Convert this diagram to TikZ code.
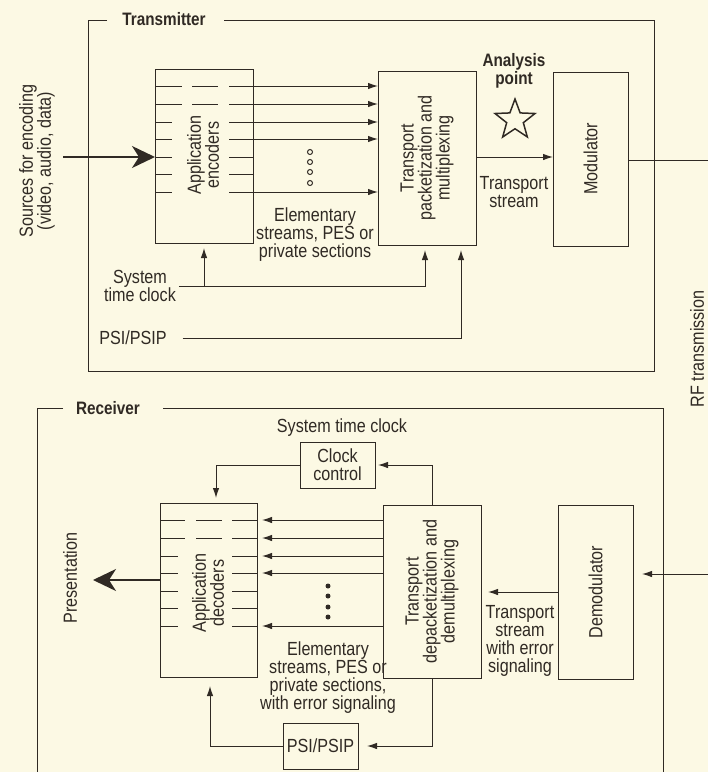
\documentclass[tikz,border=0pt]{standalone}
\usepackage{fontspec}
\setmainfont{Liberation Sans}[FakeStretch=0.85]
\usetikzlibrary{arrows.meta,shapes.geometric,calc}
\definecolor{bgc}{RGB}{252,249,228}
\definecolor{ink}{RGB}{48,42,36}
\begin{document}
\begin{tikzpicture}[x=1pt,y=-1pt,
  every node/.style={inner sep=0pt,outer sep=0pt,text=ink,font=\fontsize{19}{18}\selectfont},
  lab/.style={align=center},
  boldlab/.style={align=center,font=\fontsize{18}{18}\selectfont\bfseries},
  vlab/.style={align=center,rotate=90},
  blk/.style={draw=ink,line width=1pt,fill=bgc},
  ln/.style={draw=ink,line width=1pt},
  arr/.style={ln,-{Latex[length=10pt,width=6.5pt]}},
  bigarr/.style={draw=ink,line width=2pt,-{Stealth[length=23pt,width=22pt,inset=7pt]}},
  odot/.style={circle,draw=ink,line width=1pt,minimum size=5pt},
  fdot/.style={circle,fill=ink,minimum size=5pt}]
\fill[bgc] (0,0) rectangle (708,772);
\useasboundingbox (0,0) rectangle (708,772);

% ---------------- Transmitter ----------------
\node[boldlab] (tlbl) at (164,19) {Transmitter};
\draw[ln] (107,20) -- (88,20) -- (88,371) -- (654,371) -- (654,20) -- (224,20);

\node[blk,minimum width=98pt,minimum height=174pt] (enc) at (204,156) {};
\node[blk,minimum width=98pt,minimum height=174pt] (tx) at (427,158) {};
\node[blk,minimum width=75pt,minimum height=174pt] (mod) at (590.5,159) {};

% internal encoder lines
\foreach \y in {86,104}{
  \draw[ln] (155,\y) -- (182,\y) (192,\y) -- (218,\y) (229,\y) -- (253,\y);}
\foreach \y in {122,139,157,174,192}{
  \draw[ln] (155,\y) -- (172,\y) (229,\y) -- (253,\y);}
\node[vlab] (enclbl) at (203,155) {Application\\encoders};

\foreach \y in {86,104,122,139,192}{
  \draw[arr] (enc.east |- 0,\y) -- (tx.west |- 0,\y);}
\foreach[count=\i] \y in {152,162,172,183}{
  \node[odot] (od\i) at (310,\y) {};}
\node[lab] (eslbl) at (315,235) {Elementary\\streams, PES or\\private sections};

\node[vlab] (txlbl) at (tx.center) {Transport\\packetization and\\multiplexing};
\node[boldlab] (aplbl) at (514,71) {Analysis\\point};
\node[star,star points=5,star point ratio=2.4,draw=ink,line width=1.5pt,minimum size=42pt] (star) at (515,120) {};
\draw[arr] (tx.east |- 0,157) -- (mod.west |- 0,157);
\node[lab] (tslbl) at (514,192) {Transport\\stream};
\node[vlab] (modlbl) at (mod.center) {Modulator};
\coordinate (rfout) at (708,160);
\draw[ln] (mod.east |- rfout) -- (rfout);

\node[vlab] (srclbl) at (37,161) {Sources for encoding\\(video, audio, data)};
\coordinate (srcin) at (63,157);
\draw[bigarr] (srcin) -- (enc.west |- srcin);

\node[lab] (stclbl) at (140,286) {System\\time clock};
\draw[arr,shorten >=5pt] ([xshift=3pt]stclbl.east) -| (tx.south -| 425,0);
\coordinate (br) at (204,286);
\draw[arr,shorten >=5pt] (br) -- (enc.south);
\node[lab] (psilbl) at (133,338) {PSI/PSIP};
\draw[arr,shorten >=5pt] ([xshift=16pt]psilbl.east) -| (tx.south -| 461,0);

\node[vlab] (rflbl) at (697,349) {RF transmission};

% ---------------- Receiver ----------------
\node[boldlab] (rlbl) at (108,408) {Receiver};
\draw[ln] (63,408) -- (37,408) -- (37,772);
\draw[ln] (163,408) -- (663,408) -- (663,772);

\node[lab] (rstc) at (342,428) {System time clock};
\node[blk,minimum width=75pt,minimum height=46pt,align=center] (clk) at (337.5,465) {Clock\\control};
\node[blk,minimum width=98pt,minimum height=173pt] (rtx) at (432,591.5) {};
\node[blk,minimum width=97pt,minimum height=174pt] (dec) at (208.5,590) {};
\node[blk,minimum width=75pt,minimum height=174pt] (dem) at (595.5,592) {};
\node[blk,minimum width=75pt,minimum height=46pt] (rpsi) at (320.5,746) {PSI/PSIP};

\foreach \y in {520,538}{
  \draw[ln] (160,\y) -- (185,\y) (196,\y) -- (222,\y) (232,\y) -- (257,\y);}
\foreach \y in {556,573,591,608,626}{
  \draw[ln] (160,\y) -- (178,\y) (232,\y) -- (257,\y);}
\node[vlab] (declbl) at (208,593) {Application\\decoders};
\node[vlab] (rtxlbl) at (rtx.center) {Transport\\depacketization and\\demultiplexing};
\node[vlab] (demlbl) at (dem.center) {Demodulator};

\foreach \y in {520,538,556,573,626}{
  \draw[arr,shorten >=5pt] (rtx.west |- 0,\y) -- (dec.east |- 0,\y);}
\foreach[count=\i] \y in {586,596,607,617}{
  \node[fdot] (fd\i) at (328,\y) {};}
\node[lab] (reslbl) at (328,678) {Elementary\\streams, PES or\\private sections,\\with error signaling};

\coordinate (pres) at (93,580);
\draw[bigarr] (dec.west |- pres) -- (pres);
\node[vlab] (preslbl) at (70,578) {Presentation};

\draw[arr,shorten >=3pt] (rtx.north -| 432,0) |- (clk.east);
\draw[arr,shorten >=5pt] (clk.west) -| (dec.north -| 216,0);
\draw[arr,shorten >=9pt] (rtx.south -| 432,0) |- (rpsi.east);
\draw[arr,shorten >=9pt] (rpsi.west) -| (dec.south -| 210,0);

\draw[arr,shorten >=7pt] (dem.west |- 0,592) -- (rtx.east |- 0,592);
\node[lab] (rtslbl) at (520,641) {Transport\\stream\\with error\\signaling};
\coordinate (rfin) at (708,574);
\draw[arr,shorten >=9pt] (rfin) -- (dem.east |- rfin);
\end{tikzpicture}
\end{document}
